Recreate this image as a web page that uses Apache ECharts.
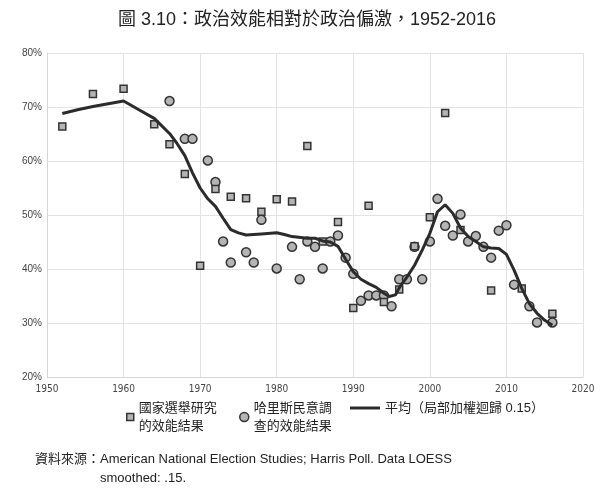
<!DOCTYPE html>
<html>
<head>
<meta charset="utf-8">
<script src="https://cdn.jsdelivr.net/npm/echarts@6/dist/echarts.min.js"></script>
<style>html,body{margin:0;padding:0;background:#fff;}#c{width:614px;height:503px;}</style>
</head>
<body>
<div id="c"></div>
<script>
// ANES (國家選舉研究) efficacy results
const anesYears = [1952, 1956, 1960, 1964, 1966, 1968, 1970, 1972, 1974, 1976, 1978, 1980, 1982, 1984, 1986, 1988, 1990, 1992, 1994, 1996, 1998, 2000, 2002, 2004, 2008, 2012, 2016];
const anesValues = [66.4, 72.4, 73.4, 66.8, 63.1, 57.6, 40.6, 54.8, 53.4, 53.1, 50.6, 52.9, 52.5, 62.8, 45.1, 48.7, 32.8, 51.7, 33.9, 36.2, 44.2, 49.6, 68.9, 47.2, 36.0, 36.4, 31.7];
// Harris Poll (哈里斯民意調查) efficacy results
const harrisYears = [1966, 1968, 1969, 1971, 1972, 1973, 1974, 1976, 1977, 1978, 1980, 1982, 1983, 1984, 1985, 1986, 1987, 1988, 1989, 1990, 1991, 1992, 1993, 1994, 1995, 1996, 1997, 1998, 1999, 2000, 2001, 2002, 2003, 2004, 2005, 2006, 2007, 2008, 2009, 2010, 2011, 2013, 2014, 2016];
const harrisValues = [71.1, 64.1, 64.1, 60.1, 56.1, 45.1, 41.2, 43.1, 41.2, 49.1, 40.1, 44.1, 38.1, 45.1, 44.1, 40.1, 45.1, 46.2, 42.1, 39.1, 34.1, 35.1, 35.1, 35.1, 33.1, 38.1, 38.1, 44.1, 38.1, 45.1, 53.0, 48.0, 46.2, 50.1, 45.1, 46.1, 44.1, 42.1, 47.1, 48.1, 37.1, 33.1, 30.1, 30.1];
// LOESS average (局部加權迴歸 0.15)
const loessYears = [1952, 1954, 1956, 1958, 1960, 1962, 1964, 1966, 1967, 1968, 1969, 1970, 1971, 1972, 1973, 1974, 1975, 1976, 1978, 1980, 1981, 1982, 1984, 1985, 1986, 1987, 1988, 1989, 1990, 1991, 1992, 1993, 1994, 1994.7, 1995.5, 1996, 1997, 1998, 1999, 2000, 2001, 2002, 2003, 2004, 2005, 2006, 2007, 2008, 2009, 2010, 2011, 2012, 2013, 2014, 2015, 2016];
const loessValues = [68.8, 69.5, 70.1, 70.6, 71.1, 69.5, 67.9, 65.1, 63.2, 61.0, 57.8, 55.0, 53.0, 51.6, 49.4, 47.3, 46.7, 46.3, 46.5, 46.7, 46.4, 46.0, 45.7, 45.7, 45.2, 45.0, 44.2, 41.8, 39.5, 38.1, 37.3, 36.6, 35.5, 34.9, 35.2, 36.5, 38.5, 40.7, 43.5, 46.6, 50.6, 51.9, 50.3, 47.6, 46.0, 45.1, 44.1, 43.9, 43.8, 42.7, 39.8, 36.4, 33.6, 31.8, 30.5, 29.6];
// Axis ticks
const xTicks = [1950, 1960, 1970, 1980, 1990, 2000, 2010, 2020];
const yTicks = [20, 30, 40, 50, 60, 70, 80];

const zip = (xs, ys) => xs.map((x, i) => [x, ys[i]]);
const nameAnes = '國家選舉研究\n的效能結果';
const nameHarris = '哈里斯民意調\n查的效能結果';
const nameLoess = '平均（局部加權迴歸 0.15）';
const cjk = "'Liberation Sans', 'Noto Sans CJK TC', sans-serif";

const chart = echarts.init(document.getElementById('c'));
const legendText = { fontSize: 13, lineHeight: 18, color: '#222', fontFamily: cjk };
chart.setOption({
  backgroundColor: '#fff',
  animation: false,
  title: {
    text: '圖 3.10：政治效能相對於政治偏激，1952-2016',
    left: 'center', top: 6,
    textStyle: { fontSize: 18, fontWeight: 'normal', color: '#222', fontFamily: cjk }
  },
  grid: { left: 47, right: 31, top: 53, bottom: 126 },
  xAxis: {
    type: 'value', min: xTicks[0], max: xTicks[xTicks.length - 1], interval: 10,
    axisLine: { show: true, lineStyle: { color: '#d6d6d6' } },
    axisTick: { show: false },
    axisLabel: { color: '#444', fontSize: 10, margin: 7, formatter: v => String(v),
      fontFamily: "'Liberation Sans Narrow', 'DejaVu Sans Condensed', sans-serif" },
    splitLine: { show: true, lineStyle: { color: '#e3e3e3' } }
  },
  yAxis: {
    type: 'value', min: yTicks[0], max: yTicks[yTicks.length - 1], interval: 10,
    axisLine: { show: true, lineStyle: { color: '#d6d6d6' } },
    axisTick: { show: false },
    axisLabel: { color: '#444', fontSize: 10, margin: 5, formatter: '{value}%', fontFamily: "'Liberation Sans', sans-serif" },
    splitLine: { show: true, lineStyle: { color: '#e3e3e3' } }
  },
  legend: [
    { data: [nameAnes], left: 121, top: 385, icon: 'rect', itemWidth: 7, itemHeight: 7, itemGap: 0,
      itemStyle: { color: '#b4b4b4', borderColor: '#333', borderWidth: 1.5 },
      textStyle: Object.assign({}, legendText, { padding: [18, 0, 0, 0] }), selectedMode: false },
    { data: [nameHarris], left: 234, top: 385, icon: 'circle', itemWidth: 9, itemHeight: 9, itemGap: 0,
      itemStyle: { color: '#b4b4b4', borderColor: '#333', borderWidth: 1.5 },
      textStyle: Object.assign({}, legendText, { padding: [18, 0, 0, 0] }), selectedMode: false },
    { data: [{ name: nameLoess, icon: 'rect' }], left: 345, top: 394, itemWidth: 30, itemHeight: 3, itemGap: 0,
      itemStyle: { color: '#2b2b2b', borderWidth: 0 },
      textStyle: legendText, selectedMode: false }
  ],
  graphic: [
    { type: 'text', left: 35, top: 453, style: { text: '資料來源：American National Election Studies; Harris Poll. Data LOESS', font: "13px " + cjk, fill: '#222' } },
    { type: 'text', left: 100, top: 472, style: { text: 'smoothed: .15.', font: "13px " + cjk, fill: '#222' } }
  ],
  series: [
    { name: nameHarris, type: 'scatter', symbol: 'circle', symbolSize: 9, z: 2,
      itemStyle: { color: '#b4b4b4', borderColor: '#333', borderWidth: 1.5, opacity: 1 },
      data: zip(harrisYears, harrisValues) },
    { name: nameAnes, type: 'scatter', symbol: 'rect', symbolSize: 7, z: 3,
      itemStyle: { color: '#b4b4b4', borderColor: '#333', borderWidth: 1.5, opacity: 1 },
      data: zip(anesYears, anesValues) },
    { name: nameLoess, type: 'line', showSymbol: false, symbol: 'none', smooth: false, z: 4,
      lineStyle: { color: '#2b2b2b', width: 3 }, itemStyle: { color: '#2b2b2b' },
      data: zip(loessYears, loessValues) }
  ]
});
</script>
</body>
</html>
